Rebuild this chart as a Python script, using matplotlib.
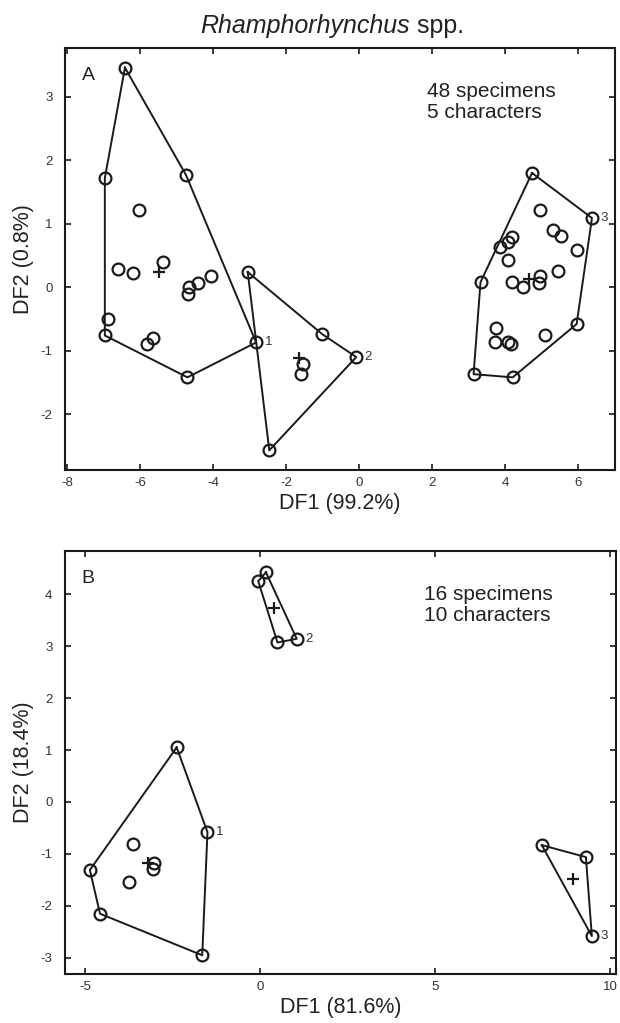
import numpy as np
import matplotlib
matplotlib.use('Agg')
import matplotlib.pyplot as plt

plt.rcParams['font.family'] = ['Liberation Sans', 'DejaVu Sans']
plt.rcParams['axes.unicode_minus'] = False

# Panel A: 48 specimens, 5 characters
a1_x = [-6.41, -6.96, -4.74, -6.03, -6.61, -6.20, -5.36, -4.65, -4.68, -4.40, -4.06, -6.87, -6.96, -5.65, -5.80, -4.70, -2.82]
a1_y = [3.46, 1.72, 1.77, 1.21, 0.29, 0.22, 0.40, 0.01, -0.11, 0.06, 0.18, -0.50, -0.76, -0.80, -0.90, -1.42, -0.87]
a1_hull = [0, 2, 16, 15, 12, 1]

a2_x = [-3.05, -1.01, -0.08, -2.46, -1.53, -1.60]
a2_y = [0.24, -0.74, -1.10, -2.57, -1.21, -1.37]
a2_hull = [0, 1, 2, 3]

a3_x = [4.73, 6.37, 4.94, 5.31, 5.53, 5.95, 4.18, 4.07, 3.86, 4.06, 3.32, 4.18, 4.48, 4.94, 4.91, 5.43,
        5.95, 3.75, 3.71, 4.07, 4.16, 5.08, 3.13, 4.20]
a3_y = [1.80, 1.09, 1.21, 0.90, 0.80, 0.59, 0.79, 0.71, 0.63, 0.43, 0.08, 0.08, 0.01, 0.17, 0.06, 0.26,
        -0.58, -0.65, -0.87, -0.86, -0.89, -0.75, -1.37, -1.42]
a3_hull = [0, 1, 16, 23, 22, 10]

a_cent_x = [-5.48, -1.66, 4.64]
a_cent_y = [0.24, -1.12, 0.13]
a_label_idx = [16, 2, 1]

# Panel B: 16 specimens, 10 characters
b1_x = [-2.38, -1.50, -1.65, -4.57, -4.86, -3.62, -3.74, -3.02, -3.05]
b1_y = [1.05, -0.58, -2.95, -2.15, -1.31, -0.81, -1.53, -1.17, -1.28]
b1_hull = [0, 1, 2, 3, 4]

b2_x = [0.17, 1.05, 0.50, -0.05]
b2_y = [4.42, 3.14, 3.07, 4.25]
b2_hull = [0, 1, 2, 3]

b3_x = [8.05, 9.31, 9.48]
b3_y = [-0.83, -1.06, -2.58]
b3_hull = [0, 1, 2]

b_cent_x = [-3.19, 0.41, 8.93]
b_cent_y = [-1.17, 3.74, -1.49]
b_label_idx = [1, 1, 2]

group_names = ['1', '2', '3']


def draw_panel(ax, groups, cent_x, cent_y, label_idx):
    for k, (gx, gy, hull) in enumerate(groups):
        gx = np.array(gx)
        gy = np.array(gy)
        h = hull + [hull[0]]
        ax.plot(gx[h], gy[h], color='#1a1a1a', lw=1.4, zorder=2)
        ax.plot(gx, gy, 'o', mfc='none', mec='#1a1a1a', ms=8.5, mew=1.6, zorder=3)
        i = label_idx[k]
        ax.annotate(group_names[k], (gx[i], gy[i]), xytext=(6, 0), textcoords='offset points',
                    ha='left', va='center', fontsize=9.5, color='#333333')
    ax.plot(cent_x, cent_y, '+', color='#1a1a1a', ms=8, mew=1.6, zorder=4)
    ax.tick_params(direction='in', length=4, width=1.2, top=True, right=True,
                   labelsize=9.5, colors='#1a1a1a', labelcolor='#333333')
    ax.tick_params(axis='x', pad=5)
    ax.tick_params(axis='y', pad=9)
    for s in ax.spines.values():
        s.set_linewidth(1.5)
        s.set_color('#1a1a1a')


fig = plt.figure(figsize=(6.2, 10.23), dpi=100)
axA = fig.add_axes([65 / 620, 1 - 470 / 1023, 550 / 620, 422 / 1023])
axB = fig.add_axes([65 / 620, 1 - 974 / 1023, 551 / 620, 423 / 1023])

draw_panel(axA, [(a1_x, a1_y, a1_hull), (a2_x, a2_y, a2_hull), (a3_x, a3_y, a3_hull)],
           a_cent_x, a_cent_y, a_label_idx)
axA.set_xlim(-8.05, 7.0)
axA.set_ylim(-2.88, 3.77)
axA.set_xticks([-8, -6, -4, -2, 0, 2, 4, 6])
axA.set_yticks([-2, -1, 0, 1, 2, 3])
axA.set_xlabel('DF1 (99.2%)', fontsize=15.5, color='#222222', labelpad=3)
axA.set_ylabel('DF2 (0.8%)', fontsize=15.5, color='#222222', labelpad=5)
axA.text(0.03, 0.955, 'A', transform=axA.transAxes, fontsize=14, va='top', color='#222222')
axA.text(0.659, 0.92, '48 specimens\n5 characters', transform=axA.transAxes, fontsize=15,
         va='top', ha='left', color='#222222', linespacing=1.15)

draw_panel(axB, [(b1_x, b1_y, b1_hull), (b2_x, b2_y, b2_hull), (b3_x, b3_y, b3_hull)],
           b_cent_x, b_cent_y, b_label_idx)
axB.set_xlim(-5.57, 10.17)
axB.set_ylim(-3.31, 4.83)
axB.set_xticks([-5, 0, 5, 10])
axB.set_yticks([-3, -2, -1, 0, 1, 2, 3, 4])
axB.set_xlabel('DF1 (81.6%)', fontsize=15.5, color='#222222', labelpad=3)
axB.set_ylabel('DF2 (18.4%)', fontsize=15.5, color='#222222', labelpad=5)
axB.text(0.03, 0.955, 'B', transform=axB.transAxes, fontsize=14, va='top', color='#222222')
axB.text(0.652, 0.92, '16 specimens\n10 characters', transform=axB.transAxes, fontsize=15,
         va='top', ha='left', color='#222222', linespacing=1.15)

# title with italic genus name
t1 = fig.text(200 / 620, 1 - 33 / 1023, 'Rhamphorhynchus', fontsize=18, style='italic',
              ha='left', va='baseline', color='#222222')
fig.canvas.draw()
bb = t1.get_window_extent()
fig.text(bb.x1 / fig.bbox.width, 1 - 33 / 1023, ' spp.', fontsize=18,
         ha='left', va='baseline', color='#222222')

fig.savefig('out.png', dpi=100)
